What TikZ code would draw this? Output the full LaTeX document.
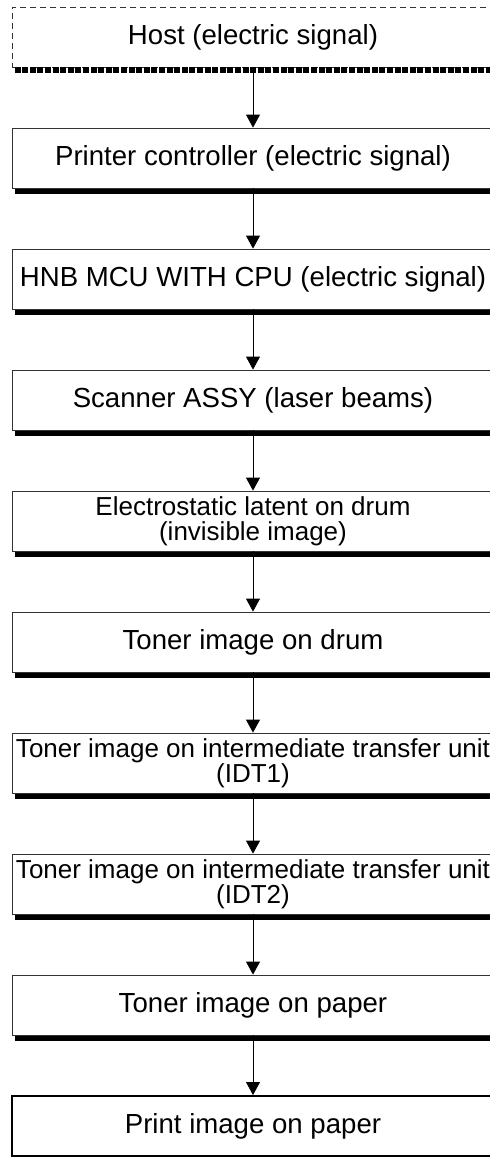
\documentclass[tikz,border=0pt]{standalone}
\usepackage{fontspec}
\setmainfont{Liberation Sans}
\usetikzlibrary{arrows.meta, shadows}

\tikzset{
  box/.style={draw=black!80, line width=0.4pt, fill=white, minimum width=241pt,
    minimum height=30pt, inner sep=0pt, align=center,
    font=\fontsize{13.8pt}{16pt}\selectfont},
  stage/.style={box, drop shadow={shadow xshift=1.5pt, shadow yshift=-2.8pt,
    fill=black, opacity=1}},
  twoline/.style={font=\fontsize{13pt}{12.6pt}\selectfont},
  flow/.style={-{Triangle[width=7pt,length=6.5pt]}, line width=0.4pt},
}

\begin{document}
\begin{tikzpicture}[x=0.5pt, y=-0.5pt]
  \useasboundingbox (0,0) rectangle (490,1157);

  \node[box, dash pattern=on 3pt off 2pt] (host) at (253,37) {Host (electric signal)};
  \draw[dash pattern=on 3pt off 0.8pt, line width=2.8pt]
    ([xshift=1.5pt,yshift=-1.4pt]host.south west) -- ([xshift=1.5pt,yshift=-1.4pt]host.south east);
  \node[stage] (ctrl) at (253,158) {Printer controller (electric signal)};
  \node[stage] (mcu) at (253,279) {HNB MCU WITH CPU (electric signal)};
  \node[stage] (scanner) at (253,400) {Scanner ASSY (laser beams)};
  \node[stage, twoline] (latent) at (253,521) {Electrostatic latent on drum\\(invisible image)};
  \node[stage] (drum) at (253,642) {Toner image on drum};
  \node[stage, twoline] (idtone) at (253,763) {Toner image on intermediate transfer unit\\(IDT1)};
  \node[stage, twoline] (idttwo) at (253,884) {Toner image on intermediate transfer unit\\(IDT2)};
  \node[stage] (paper) at (253,1005) {Toner image on paper};
  \node[box, draw=black, line width=1pt] (print) at (253,1126) {Print image on paper};

  \draw[flow] (host) -- (ctrl);
  \draw[flow] (ctrl) -- (mcu);
  \draw[flow] (mcu) -- (scanner);
  \draw[flow] (scanner) -- (latent);
  \draw[flow] (latent) -- (drum);
  \draw[flow] (drum) -- (idtone);
  \draw[flow] (idtone) -- (idttwo);
  \draw[flow] (idttwo) -- (paper);
  \draw[flow] (paper) -- (print);
\end{tikzpicture}
\end{document}
